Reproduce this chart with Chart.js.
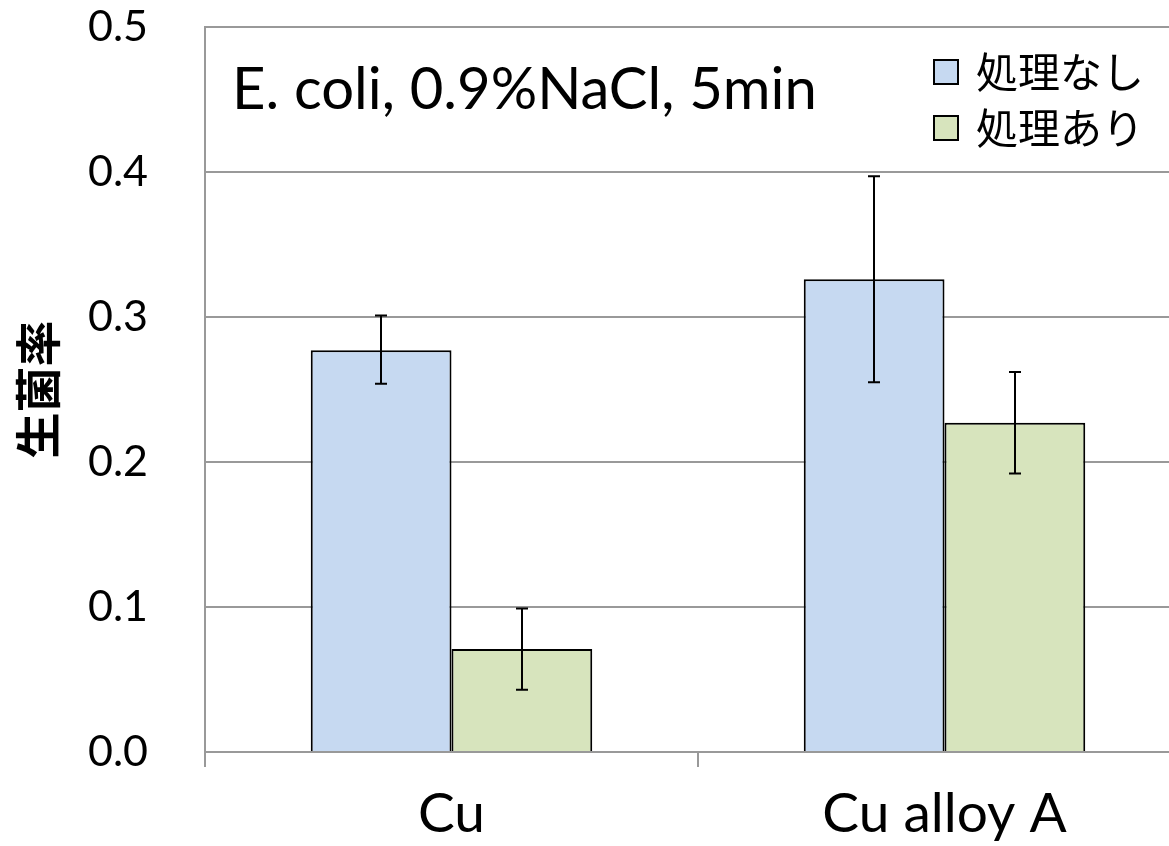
<!DOCTYPE html>
<html lang="ja">
<head>
<meta charset="UTF-8">
<title>生菌率</title>
<style>
    html, body { margin: 0; padding: 0; overflow: hidden; background: #fff; }
    .wrap { width: 1200px; height: 846px; }
</style>
</head>
<body>
<div class="wrap">
    <canvas id="myChart"></canvas>
</div>
<script src="https://cdn.jsdelivr.net/npm/chart.js@4.4.0/dist/chart.umd.min.js"></script>
<script>
    // カテゴリ
    const categories = ["Cu", "Cu alloy A"];
    // 系列
    const seriesNames = ["処理なし", "処理あり"];
    const untreated = [0.277, 0.326];
    const treated = [0.071, 0.227];
    // 誤差範囲 (上端・下端)
    const untreatedHigh = [0.301, 0.397];
    const untreatedLow = [0.254, 0.255];
    const treatedHigh = [0.099, 0.262];
    const treatedLow = [0.043, 0.192];
    const yTicks = [0.0, 0.1, 0.2, 0.3, 0.4, 0.5];
    const note = "E. coli, 0.9%NaCl, 5min";

    const latin = "Lato, 'Noto Sans CJK JP', sans-serif";
    const cjk = "'Noto Sans CJK JP', sans-serif";

    // 誤差棒
    const errorBars = {
        id: "errorBars",
        afterDatasetsDraw(chart) {
            const ctx = chart.ctx;
            const y = chart.scales.y;
            ctx.save();
            ctx.strokeStyle = "#000";
            ctx.lineWidth = 2;
            chart.data.datasets.forEach((ds, di) => {
                const meta = chart.getDatasetMeta(di);
                meta.data.forEach((bar, i) => {
                    const x = Math.round(bar.x);
                    const top = y.getPixelForValue(ds.errHigh[i]);
                    const bot = y.getPixelForValue(ds.errLow[i]);
                    ctx.beginPath();
                    ctx.moveTo(x, top); ctx.lineTo(x, bot);
                    ctx.moveTo(x - 6, top); ctx.lineTo(x + 6, top);
                    ctx.moveTo(x - 6, bot); ctx.lineTo(x + 6, bot);
                    ctx.stroke();
                });
            });
            ctx.restore();
        }
    };

    // 注記と凡例
    const overlay = {
        id: "overlay",
        afterDraw(chart) {
            const ctx = chart.ctx;
            ctx.save();
            ctx.fillStyle = "#000";
            ctx.textBaseline = "middle";
            ctx.font = "58px " + latin;
            ctx.fillText(note, 232, 90);

            chart.data.datasets.forEach((ds, i) => {
                const cy = 72 + i * 56;
                ctx.fillStyle = ds.backgroundColor;
                ctx.fillRect(934, cy - 12, 24, 24);
                ctx.strokeStyle = "#000";
                ctx.lineWidth = 2;
                ctx.strokeRect(934, cy - 12, 24, 24);
                ctx.fillStyle = "#000";
                ctx.font = "42px " + cjk;
                ctx.fillText(ds.label, 976, cy);
            });
            ctx.restore();
        }
    };

    new Chart(document.getElementById("myChart"), {
        type: "bar",
        data: {
            labels: categories,
            datasets: [{
                label: seriesNames[0],
                data: untreated,
                errHigh: untreatedHigh,
                errLow: untreatedLow,
                backgroundColor: "#c6d9f1",
                borderColor: "#000",
                borderWidth: 2
            }, {
                label: seriesNames[1],
                data: treated,
                errHigh: treatedHigh,
                errLow: treatedLow,
                backgroundColor: "#d7e4bd",
                borderColor: "#000",
                borderWidth: 2
            }]
        },
        options: {
            responsive: true,
            maintainAspectRatio: false,
            animation: false,
            categoryPercentage: 0.571,
            barPercentage: 1,
            layout: { padding: { top: 27, right: 9, left: 0, bottom: 0 } },
            plugins: {
                legend: { display: false },
                tooltip: { enabled: false }
            },
            scales: {
                x: {
                    grid: {
                        drawOnChartArea: false,
                        drawTicks: true,
                        tickLength: 15,
                        color: "#999",
                        lineWidth: 2
                    },
                    border: { color: "#999", width: 2 },
                    ticks: {
                        color: "#000",
                        padding: 14,
                        maxRotation: 0,
                        font: { family: latin, size: 55 }
                    },
                    afterFit(s) {
                        s.height = 94;
                        s.paddingLeft = 0;
                        s.paddingRight = 0;
                    }
                },
                y: {
                    min: 0,
                    max: 0.5,
                    afterBuildTicks(s) { s.ticks = yTicks.map(v => ({ value: v })); },
                    grid: { color: "#999", lineWidth: 2, drawTicks: false },
                    border: { color: "#999", width: 2 },
                    ticks: {
                        color: "#000",
                        padding: 57,
                        font: { family: latin, size: 43 },
                        callback: v => v.toFixed(1)
                    },
                    title: {
                        display: true,
                        text: "生菌率",
                        color: "#000",
                        padding: { top: 10, bottom: 0 },
                        font: { family: cjk, size: 46, weight: "bold" }
                    },
                    afterFit(s) {
                        s.width = 205;
                        s.paddingTop = 0;
                        s.paddingBottom = 0;
                    }
                }
            }
        },
        plugins: [errorBars, overlay]
    });
</script>
</body>
</html>
